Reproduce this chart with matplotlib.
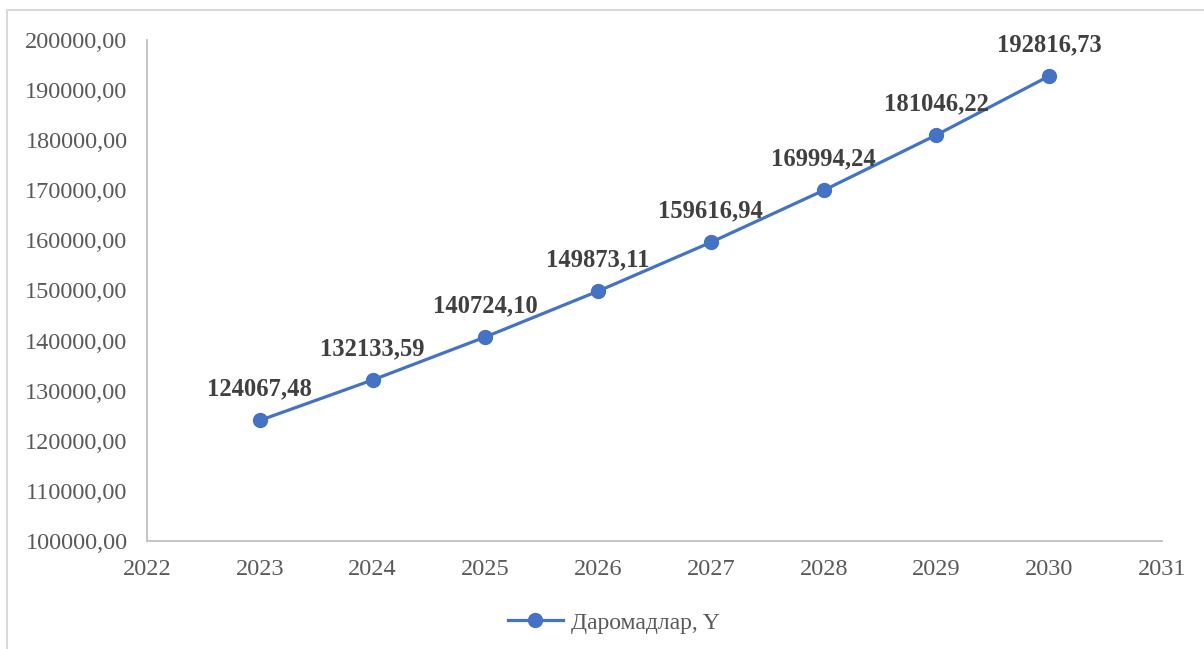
import matplotlib.pyplot as plt
from matplotlib.patches import Rectangle
from matplotlib.ticker import FuncFormatter

years = [2023, 2024, 2025, 2026, 2027, 2028, 2029, 2030]
income = [124067.48, 132133.59, 140724.10, 149873.11, 159616.94, 169994.24, 181046.22, 192816.73]
series_name = "Даромадлар, Y"

plt.rcParams['font.family'] = ['Liberation Serif', 'DejaVu Serif']

W, H = 1204, 649
fig = plt.figure(figsize=(W / 100, H / 100), dpi=100)
ax = fig.add_axes([147 / W, 1 - 541 / H, (1162 - 147) / W, (541 - 40) / H])

# chart border (cut off on right/bottom like the screenshot)
fig.patches.append(Rectangle((7 / W, -0.1), 1.2, 1 - 10 / H + 0.1, transform=fig.transFigure,
                             fill=False, edgecolor='#d9d9d9', linewidth=1.5))

color = '#4472C4'
ax.plot(years, income, color=color, linewidth=2.3, marker='o', markersize=10,
        label=series_name, clip_on=False)

for x, y in zip(years, income):
    ax.annotate(f"{y:.2f}".replace('.', ','), (x, y), xytext=(0, 22.5), textcoords='offset points',
                ha='center', va='center', fontsize=17.7, fontweight='bold', color='#404040')

ax.set_xlim(2022, 2031)
ax.set_ylim(100000, 200000)
ax.set_xticks(range(2022, 2032))
ax.set_yticks(range(100000, 200001, 10000))
ax.yaxis.set_major_formatter(FuncFormatter(lambda v, p: f"{v:.2f}".replace('.', ',')))

for s in ['top', 'right']:
    ax.spines[s].set_visible(False)
for s in ['left', 'bottom']:
    ax.spines[s].set_color('#bfbfbf')
    ax.spines[s].set_linewidth(1.3)
ax.tick_params(length=0, labelsize=17.5, colors='#595959')
ax.tick_params(axis='x', pad=13)
ax.tick_params(axis='y', pad=14)

fig.legend(loc='center', bbox_to_anchor=(614 / W, 1 - 623 / H), frameon=False,
           fontsize=17, labelcolor='#595959', handlelength=2.3, handletextpad=0.35)

plt.savefig("out.png", dpi=100)
